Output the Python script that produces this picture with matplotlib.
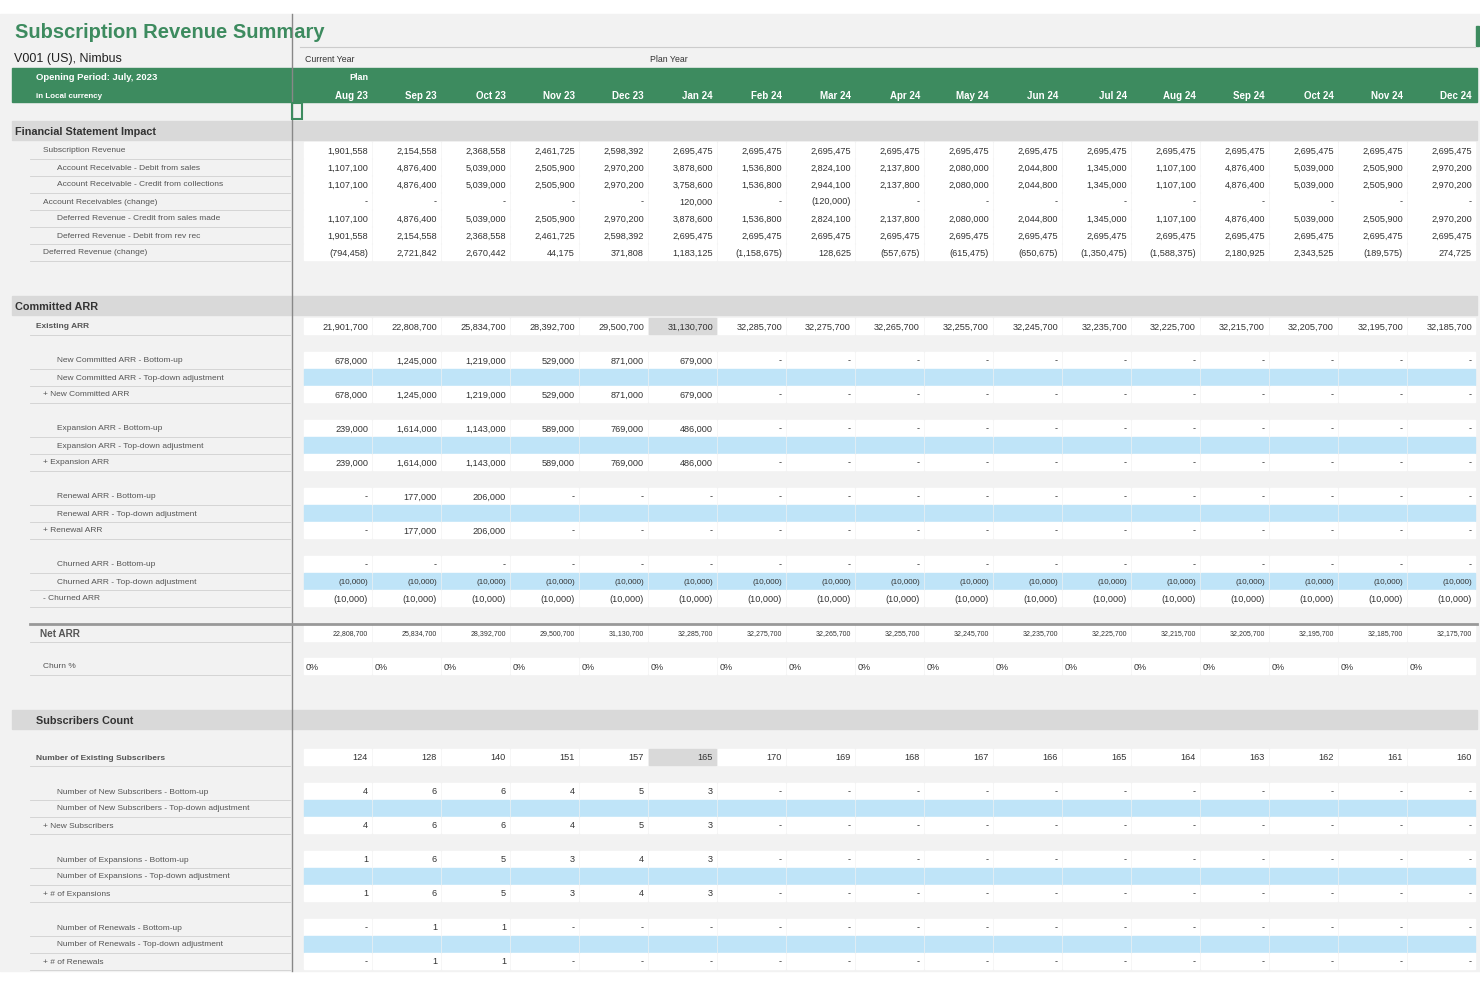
import matplotlib
matplotlib.use("Agg")
import matplotlib.pyplot as plt
from matplotlib.patches import Rectangle

plt.rcParams['font.family'] = ['Liberation Sans Narrow', 'Liberation Sans', 'DejaVu Sans']

months = ["Aug 23","Sep 23","Oct 23","Nov 23","Dec 23","Jan 24","Feb 24","Mar 24","Apr 24",
          "May 24","Jun 24","Jul 24","Aug 24","Sep 24","Oct 24","Nov 24","Dec 24"]
D = None  # dash
sub_rev = [1901558,2154558,2368558,2461725,2598392] + [2695475]*12
ar_debit = [1107100,4876400,5039000,2505900,2970200,3878600,1536800,2824100,2137800,2080000,2044800,1345000,1107100,4876400,5039000,2505900,2970200]
ar_credit = [1107100,4876400,5039000,2505900,2970200,3758600,1536800,2944100,2137800,2080000,2044800,1345000,1107100,4876400,5039000,2505900,2970200]
ar_change = [D,D,D,D,D,120000,D,-120000,D,D,D,D,D,D,D,D,D]
dr_credit = ar_debit
dr_debit = sub_rev
dr_change = [-794458,2721842,2670442,44175,371808,1183125,-1158675,128625,-557675,-615475,-650675,-1350475,-1588375,2180925,2343525,-189575,274725]

existing_arr = [21901700,22808700,25834700,28392700,29500700,31130700,32285700,32275700,32265700,32255700,32245700,32235700,32225700,32215700,32205700,32195700,32185700]
new_bu = [678000,1245000,1219000,529000,871000,679000] + [D]*11
exp_bu = [239000,1614000,1143000,589000,769000,486000] + [D]*11
ren_bu = [D,177000,206000] + [D]*14
churn_bu = [D]*17
churn_td = [-10000]*17
net_arr = [22808700,25834700,28392700,29500700,31130700,32285700,32275700,32265700,32255700,32245700,32235700,32225700,32215700,32205700,32195700,32185700,32175700]

subs_exist = [124,128,140,151,157,165,170,169,168,167,166,165,164,163,162,161,160]
subs_new = [4,6,6,4,5,3] + [D]*11
subs_exp = [1,6,5,3,4,3] + [D]*11
subs_ren = [D,1,1] + [D]*14

GREEN = "#3D8B5F"
BLUE = "#BFE4F8"
GREY_TXT = "#555555"

fig = plt.figure(figsize=(14.8, 9.87), dpi=100)
ax = fig.add_axes([0, 0, 1, 1])
ax.set_xlim(0, 1480); ax.set_ylim(987, 0); ax.axis('off')
fig.patch.set_facecolor("white")
ax.add_patch(Rectangle((0, 15), 1480, 957, color="#F2F2F2", zorder=0))

def fmt(v):
    if v is None: return "-"
    if v < 0: return "({:,})".format(-v)
    return "{:,}".format(v)

x0, cw = 303, 69
def cell_right(i): return x0 + cw*(i+1) - 4

ax.text(15, 32, "Subscription Revenue Summary", color=GREEN, fontsize=14.5, fontweight='bold', va='center')
ax.text(14, 59, "V001 (US), Nimbus", fontsize=9, va='center', color="#222")
ax.plot([300, 1475], [48, 48], color="#CCCCCC", lw=0.8)
ax.text(305, 59, "Current Year", fontsize=6.3, va='center', color="#333")
ax.text(650, 59, "Plan Year", fontsize=6.3, va='center', color="#333")
ax.add_patch(Rectangle((12, 69), 1465, 34, color=GREEN, zorder=1))
ax.add_patch(Rectangle((1476, 27), 3, 20, color=GREEN))
ax.text(36, 78, "Opening Period: July, 2023", color="white", fontsize=6.8, fontweight='bold', va='center', zorder=2)
ax.text(36, 96, "in Local currency", color="white", fontsize=5.8, fontweight='bold', va='center', zorder=2)
ax.text(cell_right(0), 78, "Plan", color="white", fontsize=6.5, fontweight='bold', va='center', ha='right', zorder=2)
for i, m in enumerate(months):
    ax.text(cell_right(i), 96, m, color="white", fontsize=7, fontweight='bold', va='center', ha='right', zorder=2)
ax.plot([292, 292], [15, 972], color="#888888", lw=1, zorder=3)
ax.add_patch(Rectangle((292, 104), 10, 16, fill=False, ec=GREEN, lw=1.5, zorder=4))

def band(y, text):
    ax.add_patch(Rectangle((12, y-10), 1465, 19, color="#D9D9D9", zorder=1))
    ax.text(15 if text != "Subscribers Count" else 36, y, text, fontsize=7.8, fontweight='bold', va='center', color="#333", zorder=2)

def row(y, label, vals, indent=43, blue=False, bold=False, small=False, hl=None, lsize=6.0):
    ax.plot([30, 290], [y+9, y+9], color="#D0D0D0", lw=0.6, zorder=1)
    ax.text(indent, y, label, fontsize=lsize, va='center', color=GREY_TXT,
            fontweight='bold' if bold else 'normal', zorder=2)
    for i in range(17):
        fc = BLUE if blue else "white"
        if hl is not None and i == hl: fc = "#D9D9D9"
        ax.add_patch(Rectangle((x0 + cw*i + 1, y-8), cw-2, 16, color=fc, zorder=1))
        if vals is None: continue
        ax.text(cell_right(i), y, fmt(vals[i]), fontsize=5.0 if small else (5.8 if blue else 6.6),
                va='center', ha='right', color="#333", zorder=2)

band(132, "Financial Statement Impact")
row(151, "Subscription Revenue", sub_rev)
row(168, "Account Receivable - Debit from sales", ar_debit, indent=57)
row(185, "Account Receivable - Credit from collections", ar_credit, indent=57)
row(202, "Account Receivables (change)", ar_change)
row(219, "Deferred Revenue - Credit from sales made", dr_credit, indent=57)
row(236, "Deferred Revenue - Debit from rev rec", dr_debit, indent=57)
row(253, "Deferred Revenue (change)", dr_change)

band(307, "Committed ARR")
row(327, "Existing ARR", existing_arr, indent=36, bold=True, hl=5)
row(361, "New Committed ARR - Bottom-up", new_bu, indent=57)
row(378, "New Committed ARR - Top-down adjustment", None, indent=57, blue=True)
row(395, "+ New Committed ARR", new_bu)
row(429, "Expansion ARR - Bottom-up", exp_bu, indent=57)
row(446, "Expansion ARR - Top-down adjustment", None, indent=57, blue=True)
row(463, "+ Expansion ARR", exp_bu)
row(497, "Renewal ARR - Bottom-up", ren_bu, indent=57)
row(514, "Renewal ARR - Top-down adjustment", None, indent=57, blue=True)
row(531, "+ Renewal ARR", ren_bu)
row(565, "Churned ARR - Bottom-up", churn_bu, indent=57)
row(582, "Churned ARR - Top-down adjustment", churn_td, indent=57, blue=True)
row(599, "- Churned ARR", churn_td)
ax.plot([30, 1477], [625, 625], color="#999999", lw=2, zorder=3)
row(634, "Net ARR", net_arr, indent=40, bold=True, small=True, lsize=7.2)
row(667, "Churn %", None)
for i in range(17):
    ax.text(x0 + cw*i + 3, 667, "0%", fontsize=6.5, va='center', ha='left', color="#333", zorder=2)

band(721, "Subscribers Count")
row(758, "Number of Existing Subscribers", subs_exist, indent=36, bold=True, hl=5)
row(792, "Number of New Subscribers - Bottom-up", subs_new, indent=57)
row(809, "Number of New Subscribers - Top-down adjustment", None, indent=57, blue=True)
row(826, "+ New Subscribers", subs_new)
row(860, "Number of Expansions - Bottom-up", subs_exp, indent=57)
row(877, "Number of Expansions - Top-down adjustment", None, indent=57, blue=True)
row(894, "+ # of Expansions", subs_exp)
row(928, "Number of Renewals - Bottom-up", subs_ren, indent=57)
row(945, "Number of Renewals - Top-down adjustment", None, indent=57, blue=True)
row(962, "+ # of Renewals", subs_ren)

fig.savefig("out.png", dpi=100, facecolor="white")
